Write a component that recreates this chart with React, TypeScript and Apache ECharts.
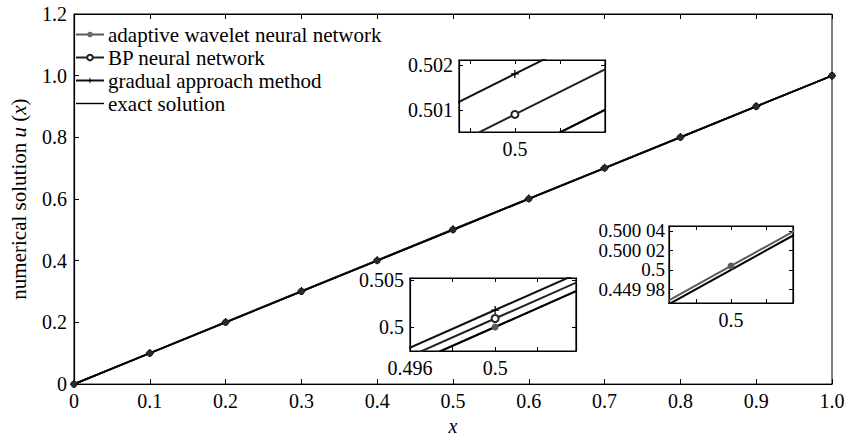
import React, { useEffect, useRef } from "react";
import * as echarts from "echarts";

// ---- data ----
const xValues = [0, 0.1, 0.2, 0.3, 0.4, 0.5, 0.6, 0.7, 0.8, 0.9, 1.0];
const exactSolution = [0, 0.1, 0.2, 0.3, 0.4, 0.5, 0.6, 0.7, 0.8, 0.9, 1.0];
const adaptiveWavelet = [0, 0.100001, 0.200002, 0.300003, 0.400003, 0.500004, 0.600004, 0.700003, 0.800003, 0.900002, 1.0];
const bpNetwork = [0, 0.1003, 0.2005, 0.3007, 0.4008, 0.5009, 0.6009, 0.7008, 0.8006, 0.9004, 1.0001];
const gradualApproach = [0, 0.1006, 0.2011, 0.3015, 0.4017, 0.5018, 0.6017, 0.7015, 0.8011, 0.9006, 1.0];

const seriesNames = [
  "adaptive wavelet neural network",
  "BP neural network",
  "gradual approach method",
  "exact solution",
];

// inset 1 (top)
const inset1XRange = [0.49938, 0.501];
const inset1YRange = [0.50051, 0.50211];
const inset1XTicks = [0.4995, 0.5, 0.5005];
const inset1XLabels = ["", "0.5", ""];
const inset1YTicks = [0.501, 0.502];
const inset1YLabels = ["0.501", "0.502"];

// inset 2 (bottom middle)
const inset2XRange = [0.496, 0.5038];
const inset2YRange = [0.49745, 0.5052];
const inset2XTicks = [0.496, 0.498, 0.5, 0.502];
const inset2XLabels = ["0.496", "", "0.5", ""];
const inset2YTicks = [0.5, 0.505];
const inset2YLabels = ["0.5", "0.505"];

// inset 3 (right)
const inset3XRange = [0.4999648, 0.5000352];
const inset3YRange = [0.499966, 0.500045];
const inset3XTicks = [0.49998, 0.5, 0.50002];
const inset3XLabels = ["", "0.5", ""];
const inset3YTicks = [0.49998, 0.5, 0.50002, 0.50004];
const inset3YLabels = ["0.449 98", "0.5", "0.500 02", "0.500 04"];

const FONT = "Liberation Serif";
const PLUS = "path://M-1,-0.16H1V0.16H-1Z M-0.16,-1H0.16V1H-0.16Z";
const LINE_ICON = "path://M0,0H28V1.4H0Z";

const pairs = (ys: number[]) => xValues.map((x, i) => [x, ys[i]]);

const lookup = (ticks: number[], labels: string[]) => (v: number) => {
  const i = ticks.findIndex((t) => Math.abs(t - v) < 1e-10);
  return i >= 0 ? labels[i] : "";
};

function insetAxes(
  grid: number,
  xr: number[],
  yr: number[],
  xt: number[],
  xl: string[],
  yt: number[],
  yl: string[],
  yFont: number,
  yMargin: number
) {
  const lineStyle = { color: "#000", width: 1.2 };
  const tick = { show: true, inside: true, length: 4, lineStyle: { color: "#000", width: 1 } };
  const label = { color: "#000", fontFamily: FONT, fontSize: 20, hideOverlap: false, showMinLabel: true, showMaxLabel: true };
  const xs = [
    {
      type: "value", gridIndex: grid, position: "bottom", min: xr[0], max: xr[1],
      axisLine: { show: true, lineStyle }, splitLine: { show: false },
      axisTick: { ...tick, customValues: xt },
      axisLabel: { ...label, margin: 7, customValues: xt, formatter: lookup(xt, xl) },
    },
    {
      type: "value", gridIndex: grid, position: "top", min: xr[0], max: xr[1],
      axisLine: { show: true, lineStyle }, splitLine: { show: false },
      axisTick: { ...tick, customValues: xt },
      axisLabel: { show: false },
    },
  ];
  const ys = [
    {
      type: "value", gridIndex: grid, position: "left", min: yr[0], max: yr[1],
      axisLine: { show: true, lineStyle }, splitLine: { show: false },
      axisTick: { ...tick, customValues: yt },
      axisLabel: {
        ...label, fontSize: yFont, lineHeight: Math.min(yFont, 17), margin: yMargin,
        customValues: yt, formatter: lookup(yt, yl),
      },
    },
    {
      type: "value", gridIndex: grid, position: "right", min: yr[0], max: yr[1],
      axisLine: { show: true, lineStyle }, splitLine: { show: false },
      axisTick: { ...tick, customValues: yt },
      axisLabel: { show: false },
    },
  ];
  return { xs, ys };
}

function seriesFor(xIdx: number, yIdx: number, inset: boolean) {
  const lw = inset ? 2 : 1.7;
  return [
    {
      name: seriesNames[1], type: "line", xAxisIndex: xIdx, yAxisIndex: yIdx,
      data: pairs(bpNetwork), symbol: "emptyCircle", symbolSize: inset ? 7 : 5,
      showAllSymbol: true, clip: true,
      itemStyle: { color: "#222", borderWidth: 1.5 }, lineStyle: { color: "#222", width: lw },
    },
    {
      name: seriesNames[2], type: "line", xAxisIndex: xIdx, yAxisIndex: yIdx,
      data: pairs(gradualApproach), symbol: PLUS, symbolSize: 8,
      showAllSymbol: true, clip: true,
      itemStyle: { color: "#000" }, lineStyle: { color: "#111", width: lw },
    },
    {
      name: seriesNames[0], type: "line", xAxisIndex: xIdx, yAxisIndex: yIdx,
      data: pairs(adaptiveWavelet), symbol: "circle", symbolSize: inset ? 7 : 6,
      showAllSymbol: true, clip: true, z: 3,
      itemStyle: { color: inset ? "#5a5a5a" : "#2a2a2a" },
      lineStyle: { color: "#5a5a5a", width: lw },
    },
    {
      name: seriesNames[3], type: "line", xAxisIndex: xIdx, yAxisIndex: yIdx,
      data: pairs(exactSolution), symbol: "none", clip: true,
      itemStyle: { color: "#000" },
      lineStyle: { color: "#000", width: lw },
    },
  ];
}

export default function App() {
  const ref = useRef<HTMLDivElement>(null);
  useEffect(() => {
    if (!ref.current) return;
    const chart = echarts.init(ref.current, null, { renderer: "svg" });

    const i1 = insetAxes(1, inset1XRange, inset1YRange, inset1XTicks, inset1XLabels, inset1YTicks, inset1YLabels, 20, 6);
    const i2 = insetAxes(2, inset2XRange, inset2YRange, inset2XTicks, inset2XLabels, inset2YTicks, inset2YLabels, 20, 6);
    const i3 = insetAxes(3, inset3XRange, inset3YRange, inset3XTicks, inset3XLabels, inset3YTicks, inset3YLabels, 19, 4);

    const mainTick = { show: true, inside: true, length: 5, lineStyle: { color: "#000", width: 1 } };
    const mainLabel = { color: "#000", fontFamily: FONT, fontSize: 20 };
    const fmt = (v: number) => (v === 0 ? "0" : v.toFixed(1));

    const option: any = {
      animation: false,
      backgroundColor: "#fff",
      textStyle: { fontFamily: FONT },
      grid: [
        { left: 64, right: 17, top: 14, bottom: 48, show: true, borderColor: "#000", borderWidth: 1, backgroundColor: "transparent" },
        { left: 459, top: 60, width: 146, height: 72, show: true, borderColor: "#000", borderWidth: 1.2, backgroundColor: "#fff" },
        { left: 410, top: 278, width: 166, height: 73, show: true, borderColor: "#000", borderWidth: 1.2, backgroundColor: "#fff" },
        { left: 669, top: 226, width: 124, height: 77, show: true, borderColor: "#000", borderWidth: 1.2, backgroundColor: "#fff" },
      ],
      legend: {
        orient: "vertical",
        left: 70,
        top: 19,
        itemWidth: 28,
        itemHeight: 7,
        itemGap: 2,
        data: [
          { name: seriesNames[0], itemStyle: { color: "#6a6a6a" } },
          { name: seriesNames[1] },
          { name: seriesNames[2] },
          { name: seriesNames[3], icon: LINE_ICON },
        ],
        textStyle: { fontFamily: FONT, fontSize: 21, color: "#000", padding: [0, 0, 0, -1] },
        selectedMode: false,
      },
      xAxis: [
        {
          type: "value", gridIndex: 0, position: "bottom", min: 0, max: 1, interval: 0.1,
          axisLine: { show: true, lineStyle: { color: "#000", width: 1.2 } }, splitLine: { show: false },
          axisTick: mainTick,
          axisLabel: { ...mainLabel, margin: 7, formatter: fmt },
          name: "x", nameLocation: "middle", nameGap: 30,
          nameTextStyle: { fontFamily: FONT, fontSize: 20, fontStyle: "italic", color: "#000" },
        },
        {
          type: "value", gridIndex: 0, position: "top", min: 0, max: 1, interval: 0.1,
          axisLine: { show: true, lineStyle: { color: "#000", width: 1 } }, splitLine: { show: false },
          axisTick: mainTick, axisLabel: { show: false },
        },
        ...i1.xs, ...i2.xs, ...i3.xs,
      ],
      yAxis: [
        {
          type: "value", gridIndex: 0, position: "left", min: 0, max: 1.2, interval: 0.2,
          axisLine: { show: true, lineStyle: { color: "#000", width: 1.2 } }, splitLine: { show: false },
          axisTick: mainTick,
          axisLabel: { ...mainLabel, margin: 7, formatter: fmt },
          name: "{a|numerical solution }{b|u}{a| (}{b|x}{a|)}",
          nameLocation: "middle", nameGap: 45,
          nameTextStyle: {
            color: "#000",
            rich: {
              a: { fontFamily: FONT, fontSize: 21, color: "#000" },
              b: { fontFamily: FONT, fontSize: 21, fontStyle: "italic", color: "#000" },
            },
          },
        },
        ...i1.ys, ...i2.ys, ...i3.ys,
      ],
      series: [
        ...seriesFor(0, 0, false),
        ...seriesFor(2, 1, true),
        ...seriesFor(4, 3, true),
        ...seriesFor(6, 5, true),
      ],
    };
    chart.setOption(option);
    return () => chart.dispose();
  }, []);
  return <div ref={ref} style={{ width: 849, height: 441, position: "absolute", left: 0, top: 0 }} />;
}
